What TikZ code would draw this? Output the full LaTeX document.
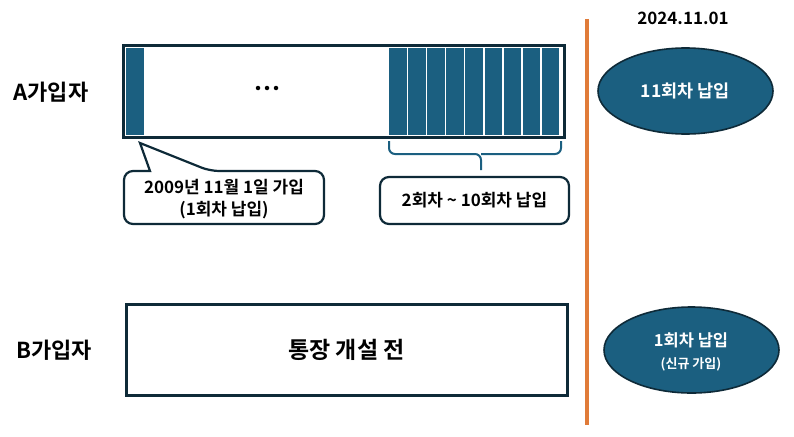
\documentclass[tikz,border=0pt]{standalone}
\usepackage{fontspec}
\setmainfont{Noto Sans CJK KR}[BoldFont={* Bold}]
\usetikzlibrary{shapes.geometric,calc}
\definecolor{bluefill}{HTML}{1B5F80}
\definecolor{darkedge}{HTML}{0E2A38}
\definecolor{orangeline}{HTML}{E07B39}
\tikzset{
  bar/.style={fill=bluefill,draw=none},
  frame/.style={draw=darkedge,line width=3pt},
  callout/.style={draw=darkedge,line width=2.2pt,rounded corners=9pt,fill=white},
  oval/.style={ellipse,draw=darkedge,line width=1.6pt,fill=bluefill,minimum width=175pt,minimum height=86pt,text=white,font=\bfseries,align=center,inner sep=0pt},
  lbl/.style={font=\fontsize{22}{24}\selectfont\bfseries},
  ctext/.style={font=\fontsize{17}{22}\selectfont\bfseries,align=center},
  dot/.style={circle,fill=black,inner sep=0pt,minimum size=4.5pt}
}
\begin{document}
\begin{tikzpicture}[x=1pt,y=-1pt]
\useasboundingbox (0,0) rectangle (794,436);
% A row
\node[lbl] (la) at (51,92) {A가입자};
\node[draw=none,minimum width=440pt,minimum height=91pt,inner sep=0pt] (abox) at (344,91.5) {};
\fill[bar] (126,48) rectangle (144,135);
\foreach \i in {0,...,8}{
  \fill[bar] ({389+\i*19.1},48) rectangle ({389+\i*19.1+17.5},135);
}
\draw[frame] (abox.north west) rectangle (abox.south east);
\node[dot] (d1) at (258,88) {};
\node[dot] (d2) at (267,88) {};
\node[dot] (d3) at (276,88) {};
% brace
\coordinate (bl) at (389,141);
\coordinate (br) at (561,141);
\coordinate (bm) at (481,154);
\coordinate (bt) at (481,170);
\draw[bluefill,line width=2pt,rounded corners=6pt] (bl) |- (bm) -- (bt);
\draw[bluefill,line width=2pt,rounded corners=6pt] (br) |- (bm);
% callout 1
\coordinate (tip) at (140,143);
\draw[callout,rounded corners=9pt] (124,171) -- (124,224) -- (324,224) -- (324,171) -- (210,171) [sharp corners]-- (tip) -- (150,171) [rounded corners=9pt] -- cycle;
\node[ctext] (c1) at (224,199) {2009년 11월 1일 가입\\(1회차 납입)};
% callout 2
\node[callout,minimum width=189pt,minimum height=47pt,ctext] (c2) at (474.5,200.5) {2회차 \textasciitilde{} 10회차 납입};
% B row
\node[lbl] (lb) at (54,350) {B가입자};
\node[draw=darkedge,line width=3pt,minimum width=441pt,minimum height=91pt,font=\fontsize{23}{24}\selectfont\bfseries] (bbox) at (346.5,349.5) {통장 개설 전};
% timeline
\coordinate (ltop) at (587,19);
\coordinate (lbot) at (587,425);
\draw[orangeline,line width=3.5pt] (ltop) -- (lbot);
\node[font=\fontsize{17}{18}\selectfont\bfseries] (date) at (683,18) {2024.11.01};
\node[oval,font=\fontsize{17.5}{18}\selectfont\bfseries] (e1) at (685.5,91) {11회차 납입};
\node[oval] (e2) at (691.5,350) {};
\node[text=white,font=\fontsize{16.5}{18}\selectfont\bfseries] (e2a) at (691,340) {1회차 납입};
\node[text=white,font=\fontsize{13}{14}\selectfont\bfseries] (e2b) at (691,364) {(신규 가입)};
\end{tikzpicture}
\end{document}
